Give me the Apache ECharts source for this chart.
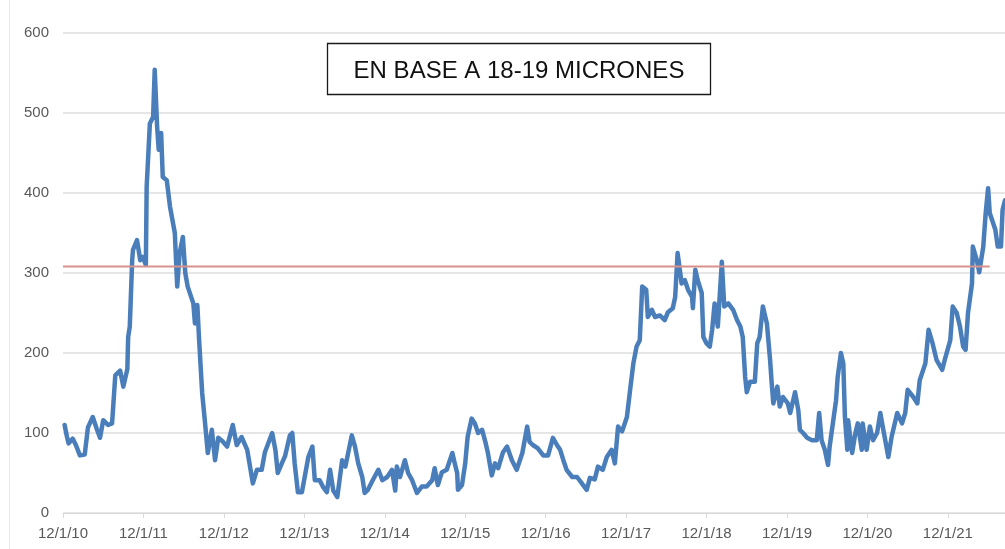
<!DOCTYPE html>
<html>
<head>
<meta charset="utf-8">
<script src="https://cdn.jsdelivr.net/npm/echarts@6/dist/echarts.min.js"></script>
<style>
html,body{margin:0;padding:0;background:#fff;}
#chart{width:1005px;height:549px;}
</style>
</head>
<body>
<div id="chart"></div>
<script>
// Years elapsed since 12/1/10
const years = [0.02,0.05,0.07,0.12,0.16,0.21,0.27,0.31,0.37,0.42,
0.46,0.50,0.56,0.61,0.65,0.71,0.75,0.80,0.81,0.83,
0.86,0.87,0.92,0.96,0.99,1.03,1.04,1.08,1.12,1.14,
1.17,1.19,1.22,1.24,1.29,1.33,1.39,1.42,1.45,1.49,
1.52,1.55,1.62,1.64,1.67,1.69,1.73,1.77,1.80,1.85,
1.89,1.93,1.98,2.04,2.11,2.16,2.22,2.29,2.36,2.41,
2.47,2.51,2.60,2.64,2.67,2.72,2.76,2.82,2.85,2.88,
2.92,2.97,3.05,3.10,3.13,3.19,3.23,3.28,3.32,3.36,
3.41,3.47,3.51,3.59,3.63,3.67,3.72,3.75,3.79,3.85,
3.92,3.97,4.03,4.09,4.13,4.15,4.19,4.25,4.29,4.34,
4.40,4.46,4.52,4.59,4.62,4.66,4.71,4.77,4.84,4.87,
4.90,4.91,4.96,5.00,5.03,5.08,5.12,5.16,5.21,5.25,
5.28,5.33,5.37,5.41,5.47,5.52,5.58,5.64,5.71,5.77,
5.80,5.84,5.90,5.97,6.03,6.09,6.14,6.18,6.22,6.26,
6.33,6.39,6.45,6.51,6.55,6.61,6.65,6.71,6.76,6.82,
6.86,6.90,6.95,7.01,7.05,7.09,7.13,7.17,7.20,7.25,
7.27,7.32,7.36,7.42,7.48,7.52,7.58,7.61,7.64,7.69,
7.73,7.77,7.82,7.83,7.86,7.89,7.94,7.96,8.00,8.04,
8.07,8.10,8.14,8.19,8.22,8.27,8.33,8.38,8.42,8.45,
8.48,8.50,8.54,8.60,8.63,8.66,8.70,8.75,8.79,8.81,
8.83,8.88,8.91,8.95,9.01,9.04,9.10,9.14,9.16,9.20,
9.25,9.31,9.37,9.40,9.43,9.47,9.51,9.53,9.57,9.61,
9.63,9.67,9.70,9.72,9.75,9.76,9.81,9.85,9.88,9.93,
9.94,9.99,10.03,10.07,10.12,10.16,10.19,10.26,10.30,10.37,
10.43,10.47,10.50,10.57,10.62,10.65,10.72,10.76,10.81,10.86,
10.93,10.96,11.03,11.06,11.11,11.15,11.19,11.22,11.25,11.30,
11.31,11.36,11.39,11.44,11.47,11.50,11.52,11.59,11.62,11.66,
11.68,11.71];

const prices = [110,95,87,93,85,72,73,107,120,105,
94,116,110,112,172,178,158,180,220,233,
316,329,341,316,320,310,408,487,495,554,
483,454,475,420,416,383,350,283,325,345,
300,283,262,237,260,220,150,108,75,104,
66,94,90,83,110,85,95,79,37,54,
54,76,100,79,50,62,71,97,100,62,
26,26,70,83,41,41,33,26,54,28,
20,66,58,97,83,62,45,25,29,41,
54,41,45,54,28,58,45,66,50,41,
25,33,33,41,56,35,51,54,75,62,
50,29,35,62,95,118,112,100,104,89,
76,47,62,56,76,83,66,54,75,108,
89,85,81,72,72,94,85,79,66,54,
45,45,37,29,44,42,58,54,70,79,
62,108,102,120,154,187,208,216,283,279,
245,254,245,247,241,251,256,270,325,287,
291,279,270,256,304,291,275,220,212,208,
229,262,233,314,258,262,254,241,233,220,
170,151,164,164,212,220,258,237,191,162,
137,158,133,145,137,125,151,129,104,100,
94,91,91,125,91,79,60,83,112,141,
170,200,187,120,79,116,75,100,112,79,
112,79,108,91,100,125,108,70,95,125,
112,125,154,145,137,166,187,229,212,191,
179,191,216,258,250,233,208,204,250,287,
333,316,301,333,375,406,375,354,333,333,
379,391];

const xTickLabels = ['12/1/10','12/1/11','12/1/12','12/1/13','12/1/14','12/1/15',
  '12/1/16','12/1/17','12/1/18','12/1/19','12/1/20','12/1/21'];

const refLevel = 308;
const refStart = 0;
const refEnd = 11.52;
const xMax = 11.71;

const titleText = 'EN BASE A 18-19 MICRONES';

const seriesData = years.map((t, i) => [t, prices[i]]);

const chart = echarts.init(document.getElementById('chart'), null, {renderer: 'canvas'});
chart.setOption({
  animation: false,
  backgroundColor: '#ffffff',
  grid: {left: 63, right: 0, top: 33, bottom: 36, containLabel: false},
  xAxis: {
    type: 'value',
    min: 0,
    max: xMax,
    interval: 1,
    axisLine: {show: true, lineStyle: {color: '#d9d9d9', width: 1}},
    axisTick: {show: true, length: 5, lineStyle: {color: '#d9d9d9'}},
    splitLine: {show: false},
    axisLabel: {
      showMaxLabel: false,
      margin: 13,
      color: '#595959',
      fontFamily: 'Liberation Sans, sans-serif',
      fontSize: 15,
      formatter: v => xTickLabels[Math.round(v)] || ''
    }
  },
  yAxis: {
    type: 'value',
    min: 0,
    max: 600,
    interval: 100,
    axisLine: {show: false},
    axisTick: {show: false},
    splitLine: {lineStyle: {color: '#dedede', width: 1.5}},
    axisLabel: {
      margin: 14,
      color: '#595959',
      fontFamily: 'Liberation Sans, sans-serif',
      fontSize: 15
    }
  },
  series: [
    {
      type: 'line',
      data: seriesData,
      showSymbol: false,
      symbol: 'none',
      lineStyle: {color: '#4a7ebb', width: 4.5, cap: 'round', join: 'round'},
      z: 2
    },
    {
      type: 'line',
      data: [[refStart, refLevel], [refEnd, refLevel]],
      showSymbol: false,
      symbol: 'none',
      silent: true,
      lineStyle: {color: '#d8918b', width: 2},
      z: 3
    }
  ],
  graphic: [
    {
      type: 'line',
      shape: {x1: 9.5, y1: 0, x2: 9.5, y2: 549},
      style: {stroke: '#e6e6e6', lineWidth: 1}
    },
    {
      type: 'rect',
      shape: {x: 327.5, y: 43.5, width: 383, height: 51},
      style: {fill: '#ffffff', stroke: '#1a1a1a', lineWidth: 1.3},
      z: 10
    },
    {
      type: 'text',
      x: 519,
      y: 71,
      style: {
        text: titleText,
        fill: '#111111',
        font: '24px "Liberation Sans", sans-serif',
        align: 'center',
        verticalAlign: 'middle'
      },
      z: 11
    }
  ]
});
</script>
</body>
</html>
